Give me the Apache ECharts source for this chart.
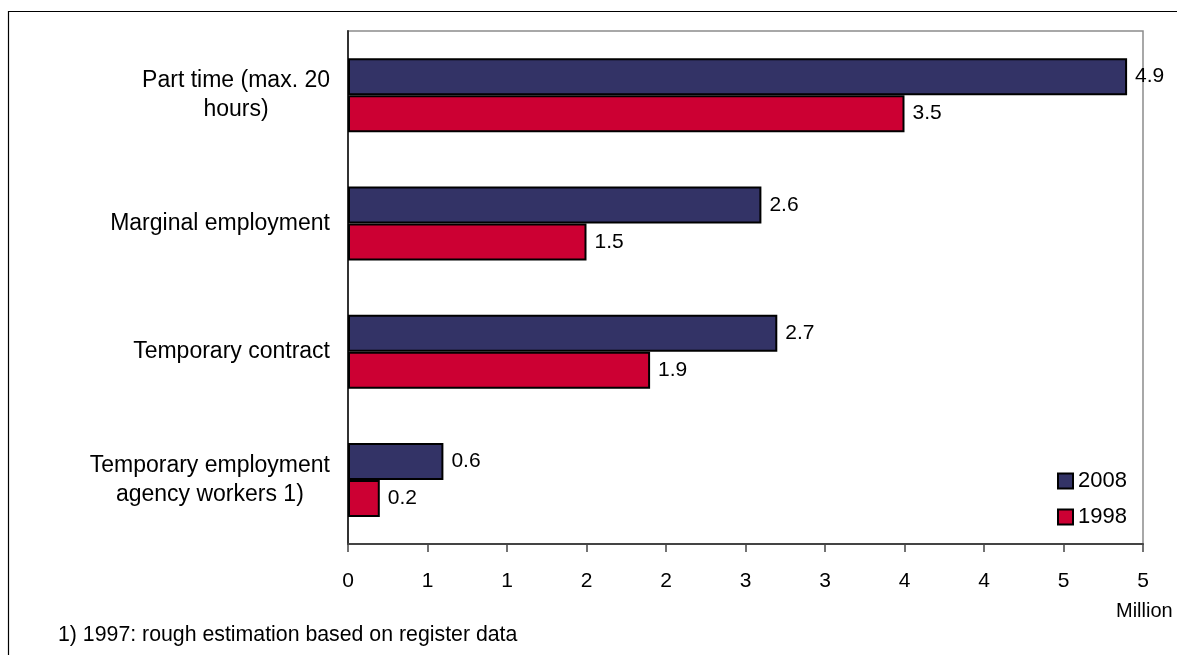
<!DOCTYPE html>
<html>
<head>
<meta charset="utf-8">
<script src="https://cdn.jsdelivr.net/npm/echarts@6/dist/echarts.min.js"></script>
<style>
  html, body { margin: 0; padding: 0; background: #ffffff; }
  #chart { width: 1177px; height: 655px; }
</style>
</head>
<body>
<div id="chart"></div>
<script>
// Atypical employment, millions of persons
const categories = [
  'Part time (max. 20\nhours)',
  'Marginal employment',
  'Temporary contract',
  'Temporary employment\nagency workers 1)'
];
const seriesNames = ['2008', '1998'];
const values2008 = [4.9, 2.6, 2.7, 0.6];
const values1998 = [3.5, 1.5, 1.9, 0.2];
const xTickValues = [0, 0.5, 1, 1.5, 2, 2.5, 3, 3.5, 4, 4.5, 5];
const xTickLabels = ['0', '1', '1', '2', '2', '3', '3', '4', '4', '5', '5'];
const axisUnit = 'Million';
const footnote = '1) 1997: rough estimation based on register data';

const FONT = '"Liberation Sans", Arial, Helvetica, sans-serif';
const NAVY = '#333366';
const RED = '#cc0033';

const chart = echarts.init(document.getElementById('chart'), null, { renderer: 'canvas' });

function barSeries(name, data, color) {
  return {
    name: name,
    type: 'bar',
    data: data,
    barWidth: 37,
    barGap: '0%',
    itemStyle: { color: color, borderColor: '#000000', borderWidth: 2 },
    label: {
      show: true,
      position: 'right',
      distance: 8,
      color: '#000000',
      fontFamily: FONT,
      fontSize: 21,
      formatter: p => p.value.toFixed(1)
    },
    emphasis: { disabled: true }
  };
}

chart.setOption({
  animation: false,
  backgroundColor: '#ffffff',
  textStyle: { fontFamily: FONT },
  grid: {
    left: 348, right: 34, top: 31, bottom: 111,
    show: true, borderColor: '#8c8c8c', borderWidth: 1.5, backgroundColor: 'transparent'
  },
  legend: {
    orient: 'vertical',
    left: 1052,
    top: 465,
    itemWidth: 15,
    itemHeight: 15,
    itemGap: 14,
    icon: 'rect',
    data: seriesNames,
    textStyle: { fontFamily: FONT, fontSize: 22, color: '#000000' }
  },
  xAxis: {
    type: 'value',
    min: 0,
    max: 5,
    interval: 0.5,
    splitLine: { show: false },
    axisLine: { show: true, lineStyle: { color: '#444444', width: 2 } },
    axisTick: { show: true, length: 8, lineStyle: { color: '#444444', width: 1.5 } },
    axisLabel: {
      margin: 27,
      color: '#000000',
      fontFamily: FONT,
      fontSize: 21,
      showMinLabel: true,
      showMaxLabel: true,
      formatter: v => xTickLabels[xTickValues.indexOf(Math.round(v * 2) / 2)]
    }
  },
  yAxis: {
    type: 'category',
    inverse: true,
    data: categories,
    axisLine: { show: true, lineStyle: { color: '#333333', width: 2 } },
    axisTick: { show: false },
    axisLabel: {
      margin: 18,
      align: 'right',
      formatter: v => v.split('\n').map(line => '{c|' + line + '}').join('\n'),
      rich: {
        c: { fontFamily: FONT, fontSize: 23, lineHeight: 29, color: '#000000', align: 'center' }
      }
    }
  },
  series: [
    barSeries(seriesNames[0], values2008, NAVY),
    barSeries(seriesNames[1], values1998, RED)
  ],
  graphic: [
    {
      type: 'rect',
      silent: true,
      shape: { x: 8.5, y: 11.5, width: 1400, height: 900 },
      style: { fill: 'none', stroke: '#000000', lineWidth: 1.2 }
    },
    {
      type: 'text',
      silent: true,
      x: 1116, y: 611,
      style: { text: axisUnit, fontFamily: FONT, fontSize: 20, fill: '#000000', verticalAlign: 'middle' }
    },
    {
      type: 'text',
      silent: true,
      x: 58, y: 635,
      style: { text: footnote, fontFamily: FONT, fontSize: 21.3, fill: '#000000', verticalAlign: 'middle' }
    }
  ]
});
</script>
</body>
</html>
